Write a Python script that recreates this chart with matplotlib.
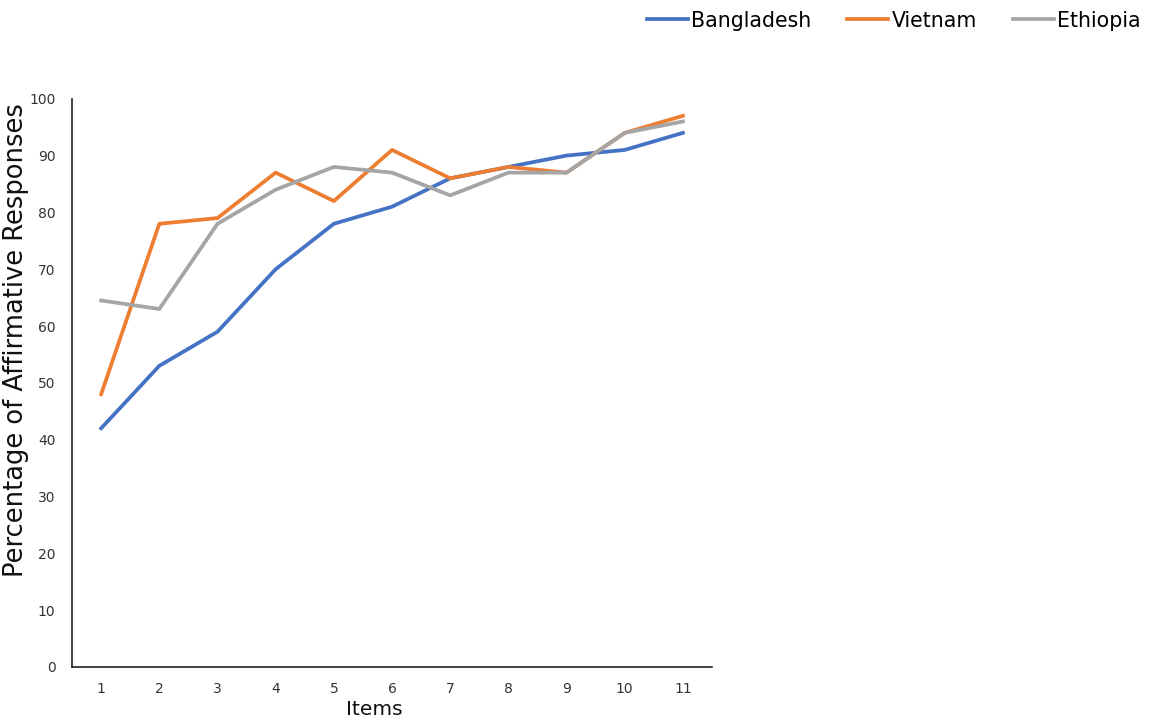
import matplotlib.pyplot as plt

plt.rcParams['font.family'] = ['DejaVu Sans']

items = list(range(1, 12))
bangladesh = [42, 53, 59, 70, 78, 81, 86, 88, 90, 91, 94]
vietnam = [48, 78, 79, 87, 82, 91, 86, 88, 87, 94, 97]
ethiopia = [64.5, 63, 78, 84, 88, 87, 83, 87, 87, 94, 96]

fig = plt.figure(figsize=(11.51, 7.21), dpi=100)
ax = fig.add_axes([0.0626, 0.075, 0.556, 0.788])

ax.plot(items, bangladesh, color='#4472C4', lw=2.7, label='Bangladesh')
ax.plot(items, vietnam, color='#ED7D31', lw=2.7, label='Vietnam')
ax.plot(items, ethiopia, color='#A5A5A5', lw=2.7, label='Ethiopia')

ax.set_xlim(0.5, 11.5)
ax.set_ylim(0, 100)
ax.set_xticks(items)
ax.set_yticks(range(0, 101, 10))
ax.tick_params(length=0, labelsize=10, colors='#333333')
ax.tick_params(axis='x', pad=11)
ax.tick_params(axis='y', pad=12)
for s in ['top', 'right']:
    ax.spines[s].set_visible(False)
for s in ['left', 'bottom']:
    ax.spines[s].set_color('#222222')
    ax.spines[s].set_linewidth(1.2)

ax.set_xlabel('Items', fontsize=14.5, color='#111111')
ax.xaxis.set_label_coords(0.473, -0.058, transform=ax.transAxes)
ax.set_ylabel('Percentage of Affirmative Responses', fontsize=18.5, color='#111111')
ax.yaxis.set_label_coords(-0.068, 0.576, transform=ax.transAxes)

fig.legend(loc='upper right', bbox_to_anchor=(1.007, 1.011), ncol=3, frameon=False,
           fontsize=14.8, handlelength=2.0, handletextpad=0.15, columnspacing=1.75)

fig.savefig('out.png', dpi=100)
